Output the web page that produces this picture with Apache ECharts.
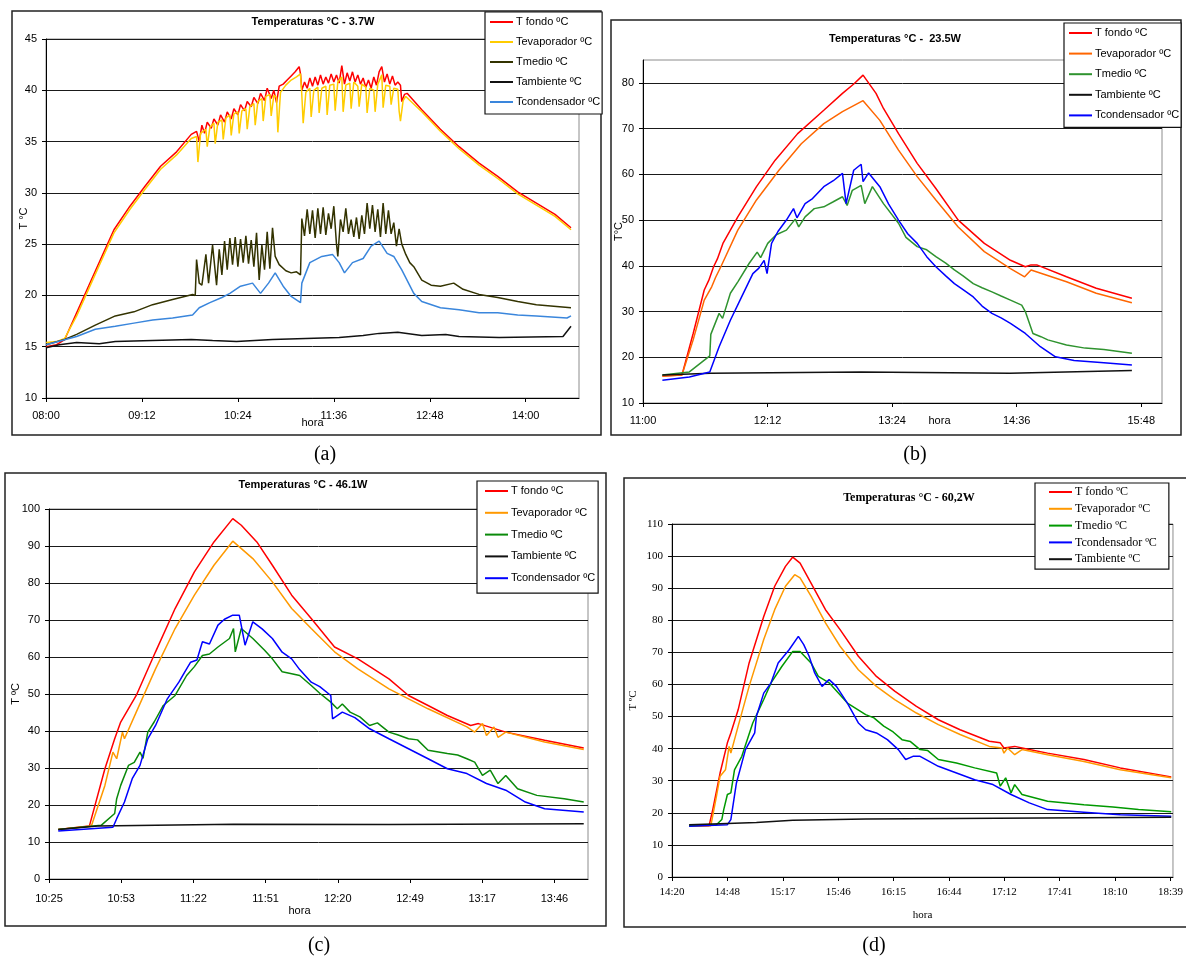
<!DOCTYPE html>
<html>
<head>
<meta charset="utf-8">
<script src="https://cdn.jsdelivr.net/npm/echarts@6/dist/echarts.min.js"></script>
<style>
body { margin: 0; background: #fff; }
#chart { width: 1186px; height: 959px; }
</style>
</head>
<body>
<div id="chart"></div>
<script>
// time in minutes from the first tick of each panel, value in ºC

// (a) 3.7W
const aTicks = ['08:00', '09:12', '10:24', '11:36', '12:48', '14:00'];
const aFondo = [[0,15.0],[8,15.2],[14,15.7],[23,18.3],[34,21.5],[43,24.1],[51,26.4],[63,28.7],[74,30.6],[86,32.6],[98,34.0],[109,35.7],
  [113,36.0],[115,35.0],[117,36.6],[119,35.8],[121,36.9],[124,36.3],[126,37.2],[129,36.6],[131,37.6],[134,36.9],[136,37.9],[139,37.2],
  [141,38.2],[144,37.6],[146,38.6],[149,38.0],[151,38.9],[154,38.4],[156,39.3],[159,38.7],[161,39.7],[164,39.0],[166,40.2],[169,39.2],
  [171,40.0],[173,38.8],[175,40.4],[178,40.6],[181,41.0],[184,41.4],[187,41.8],[190,42.3],[191,41.6],[192,40.0],
  [194,40.8],[196,40.2],[198,41.2],[200,40.4],[202,41.3],[204,40.5],[206,41.5],[208,40.6],[210,41.3],[212,40.7],[214,41.6],[216,40.8],
  [218,41.5],[220,40.7],[222,42.4],[224,40.6],[226,41.7],[228,40.9],[230,41.8],[232,40.8],[234,41.5],[236,40.6],[238,41.2],[240,40.3],
  [242,41.0],[244,40.2],[246,41.3],[248,40.5],[250,41.8],[252,42.3],[254,40.8],[256,41.6],[258,40.6],[260,41.4],[262,40.5],[264,40.8],
  [266,40.5],[267,38.9],[269,39.6],[271,39.7],[282,38.1],[296,36.2],[310,34.5],[325,32.9],[339,31.6],[354,30.1],[368,29.0],[382,27.9],[394,26.6]];
const aEvap = [[0,15.4],[8,15.5],[14,15.8],[23,18.0],[34,21.2],[43,23.8],[51,26.1],[63,28.4],[74,30.3],[86,32.3],[98,33.7],[109,35.3],
  [113,35.5],[114,33.0],[116,35.8],[120,36.2],[121,34.5],[123,36.4],[126,36.8],[127,34.8],[129,36.9],[132,37.1],[133,35.2],[135,37.3],
  [138,37.6],[139,35.6],[141,37.7],[144,37.9],[145,35.8],[147,38.0],[150,38.2],[151,36.2],[153,38.4],[156,38.7],[157,36.6],[159,38.9],
  [162,39.2],[163,37.0],[165,39.4],[168,39.6],[169,37.5],[171,39.5],[173,39.3],[174,35.9],[176,39.8],[180,40.5],[184,41.0],[188,41.3],
  [191,41.6],[192,39.5],[193,36.8],[195,39.8],[198,40.2],[199,37.4],[201,40.0],[204,40.3],[205,37.8],[207,40.2],[210,40.4],[211,37.6],
  [213,40.5],[216,40.6],[217,38.0],[219,40.8],[222,41.3],[223,37.9],[225,40.5],[228,40.7],[229,38.2],[231,40.8],[234,40.4],[235,38.4],
  [237,40.6],[240,40.3],[241,37.8],[243,40.2],[246,40.0],[247,37.9],[249,40.6],[252,41.5],[253,38.3],[255,40.5],[258,40.4],[259,38.6],
  [261,40.2],[264,40.1],[265,38.0],[266,37.0],[268,39.0],[270,39.4],[282,37.9],[296,36.0],[310,34.3],[325,32.7],[339,31.4],[354,29.9],
  [368,28.8],[382,27.7],[394,26.4]];
const aMedio = [[0,15.2],[14,15.7],[23,16.2],[37,17.1],[52,18.0],[66,18.4],[80,19.1],[95,19.6],[110,20.1],[112,20.0],
  [113,23.5],[115,21.2],[117,21.0],[120,24.0],[122,21.2],[125,24.9],[128,21.0],[130,24.5],[132,22.0],[134,25.3],[136,22.5],[138,25.6],
  [140,23.0],[142,25.7],[144,22.8],[146,25.5],[148,23.2],[150,25.8],[152,23.1],[154,25.4],[156,22.8],[158,26.1],[160,21.5],[162,24.9],
  [164,22.5],[166,26.2],[168,22.6],[170,26.6],[172,23.8],[175,23.0],[180,22.4],[184,22.2],[188,22.3],[191,22.0],
  [192,27.5],[194,25.8],[196,28.4],[198,26.0],[200,28.3],[202,25.6],[204,28.5],[206,26.0],[208,28.6],[210,25.9],[212,28.0],[214,26.5],
  [216,28.7],[218,25.0],[219,23.8],[221,27.4],[223,26.2],[225,28.5],[227,26.0],[229,27.4],[231,25.7],[233,27.6],[235,25.5],[237,27.8],
  [239,26.0],[241,29.0],[243,26.5],[245,28.8],[247,26.2],[249,28.4],[251,25.7],[253,29.0],[255,26.0],[257,28.3],[259,26.0],[261,27.1],
  [263,24.8],[265,26.5],[267,25.0],[270,24.0],[273,23.2],[276,22.8],[282,21.5],[289,21.0],[296,20.9],[306,21.2],[313,20.6],[325,20.1],[339,19.8],
  [354,19.4],[368,19.1],[394,18.8]];
const aAmb = [[0,14.9],[10,15.2],[23,15.4],[40,15.3],[52,15.5],[80,15.6],[109,15.7],[125,15.6],[143,15.5],[170,15.7],[195,15.8],
  [220,15.9],[238,16.1],[250,16.3],[264,16.4],[282,16.1],[300,16.2],[310,16.0],[340,15.9],[388,16.0],[394,17.0]];
const aCond = [[0,15.2],[23,16.0],[37,16.7],[52,17.0],[66,17.3],[80,17.6],[95,17.8],[110,18.1],[115,18.8],[123,19.3],[132,19.8],
  [138,20.2],[146,20.9],[155,21.2],[161,20.2],[167,21.2],[172,22.2],[178,20.9],[184,19.9],[191,19.3],[192,21.2],[198,23.2],[207,23.8],
  [215,24.0],[220,23.2],[224,22.2],[230,23.2],[238,23.6],[244,24.8],[250,25.3],[256,24.1],[261,23.8],[267,22.5],[276,20.2],[282,19.4],
  [296,18.8],[310,18.6],[325,18.3],[339,18.3],[354,18.1],[368,18.0],[391,17.8],[394,18.0]];

// (b) 23.5W
const bTicks = ['11:00', '12:12', '13:24', '14:36', '15:48'];
const bFondo = [[11.2,15.9],[22.5,16.1],[29,25.2],[35.4,34.7],[38,36.8],[40.8,39.8],[43,41.5],[46.2,44.9],[54.8,50.7],[65.6,57.3],[76.4,63.1],[89.4,68.9],
  [104.5,74.0],[115.3,77.7],[122,79.8],[127.2,81.7],[134.7,77.7],[139,74.4],[147.7,68.9],[158.5,62.4],[169.3,56.9],[182.2,50.0],
  [197.3,44.9],[212.4,41.2],[221,39.8],[224.3,40.2],[227.6,40.2],[244.8,37.6],[262,35.1],[282.6,32.9]];
const bEvap = [[11.2,15.9],[22.5,16.1],[29,23.8],[35.4,32.5],[39.7,35.4],[42,37.5],[45,39.8],[54.8,47.8],[65.6,54.4],[78.6,60.9],[91.5,66.7],
  [104.5,71.1],[115.3,73.7],[127.2,76.1],[136.9,71.8],[147.7,65.3],[158.5,59.5],[169.3,54.4],[182.2,48.5],[197.3,43.1],[212.4,39.4],
  [220.6,37.6],[224.3,39.1],[244.8,36.5],[262,34.0],[282.6,31.9]];
const bMedio = [[11.2,16.1],[26.8,16.8],[38.6,20.3],[39.2,25.0],[44,29.6],[46,28.5],[50.5,34.0],[55,36.6],[61.3,40.5],[66,43.0],[68,41.8],[72.1,44.9],[77,46.8],
  [82.9,47.8],[88,50.2],[90,48.5],[93.7,50.7],[99,52.5],[104.5,52.9],[110,54.0],[115.3,55.1],[118,53.2],[121,56.5],[126.1,57.6],[128.2,53.6],
  [132.6,57.3],[139,53.6],[147.7,49.3],[152,46.2],[158.5,44.2],[164,43.5],[169.3,42.0],[175,40.6],[180,39.1],[185,37.8],
  [190.9,36.1],[196,35.2],[201.7,34.3],[207,33.4],[212.4,32.5],[218.9,31.4],[221,30.0],[225.4,25.2],[230,24.5],[234,23.8],[244.8,22.7],
  [255.6,22.0],[266.4,21.7],[282.6,20.9]];
const bAmb = [[11.2,16.1],[39,16.5],[126,16.8],[212,16.5],[282.6,17.1]];
const bCond = [[11.2,15.0],[26.8,15.7],[38.6,16.8],[44,22.3],[50.5,28.1],[57,33.2],[63.5,38.3],[67,39.5],[70,41.2],[71.7,38.3],[74.3,44.9],
  [78,47.5],[82.9,50.0],[87,52.5],[89,50.5],[93.7,53.6],[98,54.7],[104.5,57.3],[110,58.6],[115.3,60.2],[117.4,53.6],[121.8,60.9],
  [126.1,62.2],[127.2,58.4],[130.4,60.3],[136.9,57.3],[142,53.5],[147.7,50.0],[153,47.0],[158.5,44.9],[164,42.0],[169.3,39.8],[175,37.8],
  [180,36.1],[185,34.8],[190.9,33.2],[196,31.2],[201.7,29.6],[207,28.6],[212.4,27.4],[221,25.2],[229.7,22.3],
  [238.4,20.1],[249.2,19.3],[266.4,18.8],[282.6,18.3]];

// (c) 46.1W
const cTicks = ['10:25', '10:53', '11:22', '11:51', '12:20', '12:49', '13:17', '13:46'];
const cFondo = [[3.7,13.4],[16.1,14.3],[22.3,29.8],[26.2,37.9],[28.6,42.4],[34.8,49.6],[42.5,61.4],[50.3,73.1],[58,83.0],[65.8,91.1],
  [73.3,97.4],[76.7,95.6],[82.9,91.1],[89.1,84.8],[96.8,76.7],[104.6,70.4],[113.9,62.7],[123.2,59.5],[135.6,54.1],[143.4,49.6],
  [151.2,46.9],[158.9,44.2],[168.2,41.5],[171.3,42.0],[182.2,39.7],[197.7,37.5],[213.3,35.4]];
const cEvap = [[3.7,13.4],[16.9,14.3],[22.3,25.3],[25.5,34.3],[27,32.5],[29.3,39.7],[30.1,37.9],[34.8,45.1],[42.5,56.8],[50.3,67.7],
  [58,76.7],[65.8,84.8],[73.3,91.3],[81.3,86.6],[89.1,80.3],[96.8,73.1],[104.6,67.7],[113.9,61.4],[123.2,56.8],[135.6,51.4],
  [151.2,46.0],[166.7,41.1],[169.8,39.7],[172.9,42.0],[174.5,38.8],[177.5,41.1],[179.1,38.3],[182.2,39.7],[197.7,37.0],[213.3,35.0]];
const cMedio = [[3.7,13.4],[20.8,14.5],[26.2,17.7],[27,21.7],[28.6,25.3],[31.7,30.7],[34,31.5],[36.3,34.3],[37.5,32.6],[39.4,39.7],[42,42.5],[45.6,46.9],[50.3,49.6],
  [54.9,55.0],[58,57.4],[61.2,60.4],[64,60.8],[67.4,62.7],[72,65.0],[73.6,67.7],[74.3,61.4],[76.7,67.7],[81.3,65.0],[86,61.8],[89.1,59.5],[93,56.0],[96.8,55.5],
  [100,55.0],[104.6,52.3],[108,50.2],[112.4,47.8],[115,46.0],[117,47.3],[120.1,45.1],[124,43.8],[127.9,41.5],[131,42.2],[135.6,39.7],[139,39.0],
  [143.4,37.9],[147,37.6],[151.2,34.8],[158.9,33.9],[163,33.5],[166.7,32.5],[169.8,31.6],[172.9,28.0],
  [176,29.4],[179.1,25.8],[182.2,28.0],[186.9,24.4],[194.6,22.6],[205.5,21.7],[213.3,20.8]];
const cAmb = [[3.7,13.4],[19.4,14.3],[73.6,14.8],[135.6,14.7],[213.3,14.9]];
const cCond = [[3.7,13.0],[25.5,14.0],[27,16.3],[30.1,20.8],[33.2,27.1],[36.3,30.7],[39.4,37.9],[42.5,41.5],[47.2,48.7],[51.8,53.2],
  [54,55.8],[56.5,58.6],[59,59.2],[61.2,64.1],[64,63.5],[67.4,68.6],[70,70.2],[73.3,71.3],[75.9,71.3],[78.2,63.2],[81.3,69.5],[85,67.6],[89.1,65.0],
  [93,61.3],[96.8,59.5],[100,56.6],[104.6,53.2],[108,52.0],[112.4,49.6],[113.1,43.3],[117,45.1],[122,43.6],[127.9,40.6],[135.6,37.9],[143.4,35.2],
  [151.2,32.5],[158.9,29.8],[166.7,28.5],[174.5,25.8],[182.2,24.0],[190,20.8],[197.7,19.0],[213.3,18.1]];

// (d) 60,2W
const dTicks = ['14:20', '14:48', '15:17', '15:46', '16:15', '16:44', '17:12', '17:41', '18:10', '18:39'];
const dFondo = [[8.9,15.8],[19.3,16.0],[21.2,21.0],[25,32.4],[28.8,41.8],[30.6,44.9],[34.4,52.1],[40.1,66.7],[47.7,81.2],[53.4,90.6],
  [59,96.8],[62.8,99.7],[66.6,97.8],[72.3,91.6],[79.8,83.3],[87.4,77.1],[96.9,68.8],[106.3,62.5],[115.8,57.9],[127.1,53.2],[138.5,49.0],
  [149.8,45.9],[165,42.3],[170.7,41.8],[172.6,40.2],[178.2,40.7],[185.8,39.7],[195.3,38.6],[214.2,36.6],[233.1,34.0],[259.6,31.2]];
const dEvap = [[8.9,15.8],[20.2,16.0],[23.1,25.1],[25,31.4],[27.8,33.4],[29.7,40.7],[30.6,38.6],[34.4,47.0],[40.1,59.4],[47.7,74.0],
  [53.4,83.3],[59,90.6],[63.8,94.2],[66.6,93.2],[72.3,87.5],[79.8,79.2],[87.4,71.9],[96.9,64.6],[106.3,59.4],[115.8,55.3],[127.1,51.1],
  [138.5,47.5],[149.8,44.4],[165,40.7],[171.6,40.2],[172.6,38.6],[174.5,40.2],[178.2,38.1],[182,39.7],[195.3,38.1],[214.2,36.0],
  [233.1,33.4],[259.6,30.9]];
const dMedio = [[8.9,16.0],[23.1,16.3],[25.9,17.9],[26.9,21.0],[28.8,25.7],[30.6,26.2],[32.5,33.4],[36.3,37.6],[42,48.0],[47.7,55.3],
  [51.5,60.5],[57.1,65.6],[62.8,70.3],[66.6,70.3],[72.3,66.7],[76.1,62.5],[81.7,60.5],[91.2,54.2],[100.7,50.6],[105,49.6],[110.1,47.0],[115,45.2],[119.6,42.8],
  [124,42.2],[129,39.7],[133,39.4],[138.5,36.6],[147.9,35.5],[157.4,34.0],[168.8,32.4],[170.7,28.3],[173.5,30.9],[176.3,26.2],[178.2,28.8],[182,25.7],
  [195.3,23.6],[214.2,22.5],[229.3,21.8],[242.6,21.0],[259.6,20.3]];
const dCond = [[8.9,15.8],[28.8,16.3],[30.6,17.9],[33.5,29.3],[38.2,39.7],[43,44.9],[43.9,50.1],[47.7,57.3],[51.5,60.5],[55.2,66.7],
  [60.9,70.8],[65.7,75.0],[68.5,72.4],[71.3,68.8],[74.2,63.6],[78,59.4],[81.7,61.5],[85.5,59.4],[91.2,54.2],[96.9,48.0],[100.7,45.9],
  [106.3,44.9],[112,42.8],[117.7,39.7],[121.5,36.6],[125.3,37.6],[129,37.6],[138.5,34.5],[157.4,30.3],[166.9,28.8],[176.3,25.7],
  [185.8,23.1],[195.3,21.0],[214.2,20.2],[233.1,19.4],[259.6,18.9]];
const dAmb = [[8.9,16.3],[25,16.6],[43.9,17.0],[62.8,17.7],[100.7,18.1],[259.6,18.6]];

const namesABC = ['T fondo ºC', 'Tevaporador ºC', 'Tmedio ºC', 'Tambiente ºC', 'Tcondensador ºC'];
const namesD = ['T fondo ºC', 'Tevaporador ºC', 'Tmedio ºC', 'Tcondensador ºC', 'Tambiente ºC'];

const sans = '"Liberation Sans", Arial, sans-serif';
const serif = '"Liberation Serif", "Times New Roman", serif';

const panels = [
    {
        key: 'a', title: 'Temperaturas °C - 3.7W', tx: 313, ty: 16, font: sans, tfs: 11,
        grid: { left: 46, top: 39, width: 533, height: 359 },
        xmax: 400, step: 72, ticks: aTicks, ymin: 10, ymax: 45, yint: 5,
        yname: 'T °C', ynameGap: 17, xnameGap: 19, xnamePad: 0, xlabMargin: 12,
        legend: { left: 485, top: 12, padding: [3, 2, 5, 5], itemGap: 6, fs: 11 },
        names: namesABC,
        colors: ['#ff0000', '#ffcc00', '#333300', '#111111', '#3a86dc'],
        data: [aFondo, aEvap, aMedio, aAmb, aCond]
    },
    {
        key: 'b', title: 'Temperaturas °C -  23.5W', tx: 895, ty: 33, font: sans, tfs: 11,
        grid: { left: 643, top: 60, width: 519, height: 343 },
        xmax: 300, step: 72, ticks: bTicks, ymin: 10, ymax: 85, yint: 10,
        yname: 'T°C', ynameGap: 19, xnameGap: 12, xnamePad: [0, 0, 0, 74], xlabMargin: 12,
        legend: { left: 1064, top: 23, padding: [3, 2, 5, 5], itemGap: 6.6, fs: 11 },
        names: namesABC,
        colors: ['#ff0000', '#ff6600', '#2f932f', '#111111', '#0000ff'],
        data: [bFondo, bEvap, bMedio, bAmb, bCond]
    },
    {
        key: 'c', title: 'Temperaturas °C - 46.1W', tx: 303, ty: 479, font: sans, tfs: 11,
        grid: { left: 49, top: 509, width: 539, height: 370 },
        xmax: 215, step: 28.8, ticks: cTicks, ymin: 0, ymax: 100, yint: 10,
        yname: 'T ºC', ynameGap: 28, xnameGap: 26, xnamePad: [0, 38, 0, 0], xlabMargin: 14,
        legend: { left: 477, top: 481, padding: [3, 3, 8, 8], itemGap: 7.8, fs: 11 },
        names: namesABC,
        colors: ['#ff0000', '#ff9900', '#0a8a0a', '#111111', '#0000ff'],
        data: [cFondo, cEvap, cMedio, cAmb, cCond]
    },
    {
        key: 'd', title: 'Temperaturas °C - 60,2W', tx: 909, ty: 492, font: serif, tfs: 12,
        grid: { left: 672, top: 524, width: 506, height: 353 },
        xmax: 260.5, step: 28.8, ticks: dTicks, ymin: 0, ymax: 110, yint: 10,
        yname: 'T ºC', ynameGap: 33, xnameGap: 33, xnamePad: 0, xlabMargin: 10,
        legend: { left: 1035, top: 483, padding: [2, 12, 3, 14], itemGap: 2.8, fs: 12 },
        names: namesD,
        colors: ['#ff0000', '#ff9900', '#009900', '#0000ff', '#111111'],
        data: [dFondo, dEvap, dMedio, dCond, dAmb]
    }
];

const labelOf = {};
const option = {
    backgroundColor: '#fff',
    animation: false,
    title: [], grid: [], xAxis: [], yAxis: [], legend: [], series: [],
    graphic: []
};

panels.forEach(function(p, i) {
    const tickPos = p.ticks.map(function(t, k) { return k * p.step; });
    const yVals = [];
    for (let v = p.ymin; v <= p.ymax; v += p.yint) yVals.push(v);
    const txt = { color: '#000', fontSize: 11, fontFamily: p.font };

    option.title.push({
        text: p.title, left: p.tx, top: p.ty, textAlign: 'center', padding: 0,
        textStyle: { color: '#000', fontSize: p.tfs, fontWeight: 'bold', fontFamily: p.font }
    });
    option.grid.push(Object.assign({ show: true, borderColor: '#8c8c8c', borderWidth: 1, backgroundColor: 'transparent' }, p.grid));
    option.xAxis.push({
        type: 'value', gridIndex: i, min: 0, max: p.xmax,
        name: 'hora', nameLocation: 'middle', nameGap: p.xnameGap, nameMoveOverlap: false,
        nameTextStyle: Object.assign({ padding: p.xnamePad }, txt),
        axisLine: { show: true, lineStyle: { color: '#000', width: 1 } },
        axisTick: { show: true, length: 4, customValues: tickPos, lineStyle: { color: '#000' } },
        axisLabel: Object.assign({
            customValues: tickPos, margin: p.xlabMargin,
            formatter: function(v) { return p.ticks[Math.round(v / p.step)]; }
        }, txt),
        splitLine: { show: false }
    });
    option.yAxis.push({
        type: 'value', gridIndex: i, min: p.ymin, max: p.ymax, interval: p.yint,
        name: p.yname, nameLocation: 'middle', nameGap: p.ynameGap, nameMoveOverlap: false, nameTextStyle: txt,
        axisLine: { show: true, lineStyle: { color: '#000', width: 1 } },
        axisTick: { show: true, length: 4, customValues: yVals, lineStyle: { color: '#000' } },
        axisLabel: Object.assign({ customValues: yVals, margin: 9 }, txt),
        splitLine: { show: true, lineStyle: { color: '#1a1a1a', width: 1 } }
    });
    const ids = [];
    p.data.forEach(function(d, k) {
        const id = p.key + k;
        ids.push(id);
        labelOf[id] = p.names[k];
        option.series.push({
            name: id, type: 'line', xAxisIndex: i, yAxisIndex: i,
            data: d, symbol: 'none', showSymbol: false,
            lineStyle: { color: p.colors[k], width: 1.5 },
            itemStyle: { color: p.colors[k] }
        });
    });
    option.legend.push({
        data: ids, orient: 'vertical', left: p.legend.left, top: p.legend.top,
        padding: p.legend.padding, itemGap: p.legend.itemGap,
        itemWidth: 23, itemHeight: 2, icon: 'rect', selectedMode: false,
        backgroundColor: '#fff', borderColor: '#111', borderWidth: 1.2,
        formatter: function(name) { return labelOf[name]; },
        textStyle: { color: '#000', fontSize: p.legend.fs, fontFamily: p.font, lineHeight: 14, padding: [0, 0, 0, -2] }
    });
});

// outer panel frames and captions
const frames = [[12, 11, 589, 424], [611, 20, 570, 415], [5, 473, 601, 453], [624, 478, 570, 449]];
frames.forEach(function(f) {
    option.graphic.push({
        type: 'rect', z: 0, silent: true,
        shape: { x: f[0], y: f[1], width: f[2], height: f[3] },
        style: { fill: 'none', stroke: '#222', lineWidth: 1.5 }
    });
});
const captions = [['(a)', 325, 455], ['(b)', 915, 455], ['(c)', 319, 946], ['(d)', 874, 946]];
captions.forEach(function(c) {
    option.graphic.push({
        type: 'text', silent: true, x: c[1], y: c[2],
        style: { text: c[0], fill: '#000', font: '20px "Liberation Serif", serif', textAlign: 'center', textVerticalAlign: 'middle' }
    });
});

const chart = echarts.init(document.getElementById('chart'));
chart.setOption(option);
</script>
</body>
</html>
